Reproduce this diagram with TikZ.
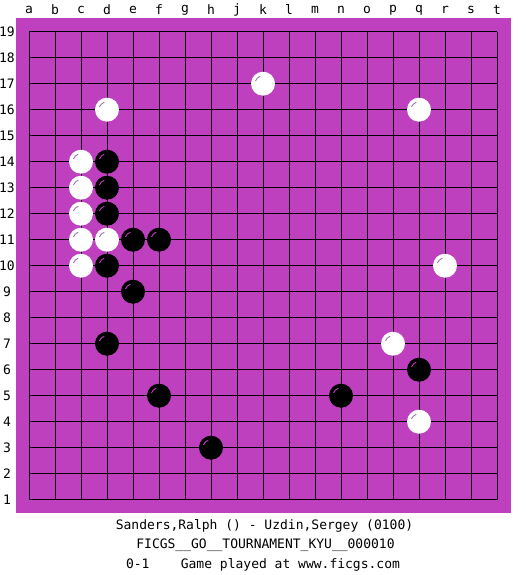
\documentclass[tikz,border=0pt]{standalone}
\usepackage{fontspec}
\setmonofont{DejaVu Sans Mono}
\definecolor{boardcolor}{RGB}{191, 64, 191}
\definecolor{shinecolor}{RGB}{150, 120, 170}
\tikzset{
	gridline/.style={draw=black, line width=0.9pt},
	whitestone/.style={
		circle, fill=white, minimum size=24pt, inner sep=0pt
	},
	blackstone/.style={
		circle, fill=black, minimum size=24pt, inner sep=0pt
	},
	whiteshine/.style={draw=shinecolor, line width=0.9pt},
	blackshine/.style={draw=boardcolor, line width=0.9pt},
	coordlabel/.style={
		font=\ttfamily\fontsize{13}{13}\selectfont, inner sep=0pt
	},
	captionline/.style={
		font=\ttfamily\fontsize{13}{13}\selectfont, anchor=base, inner sep=0pt
	}
}
\begin{document}
\begin{tikzpicture}[x=1pt, y=-1pt]
	\useasboundingbox (0,0) rectangle (525,575);
	
	%% board
	\fill[boardcolor] (16,18) rectangle (511,513);
	
	%% grid points and lines
	\foreach \c [count=\i from 0] in {a,b,c,d,e,f,g,h,j,k,l,m,n,o,p,q,r,s,t} {
		\foreach \r in {1,...,19}
			\coordinate (\c\r) at (29+26*\i, 31.7+26*19-26*\r);
		\draw[gridline] (\c19) -- (\c1);
		\node[coordlabel] (col-\c) at (29+26*\i, 10) {\c};
	}
	\foreach \r in {1,...,19} {
		\draw[gridline] (a\r) -- (t\r);
		\node[coordlabel] (row-\r) at (7, 31.7+26*19-26*\r) {\r};
	}
	
	%% stones
	\foreach \p in {k17,d16,q16,c14,c13,c12,c11,d11,c10,r10,p7,q4} {
		\node[whitestone] (w-\p) at (\p) {};
		\draw[whiteshine] (w-\p.center) ++(200:8) arc[start angle=200, end angle=250, radius=8];
	}
	\foreach \p in {d14,d13,d12,e11,f11,d10,e9,d7,q6,f5,n5,h3} {
		\node[blackstone] (b-\p) at (\p) {};
		\draw[blackshine] (b-\p.center) ++(200:8) arc[start angle=200, end angle=250, radius=8];
	}
	
	%% caption
	\node[captionline] (players) at (264.5,529) {Sanders,Ralph () - Uzdin,Sergey (0100)};
	\node[captionline] (event)   at (265.5,548.5) {FICGS\_\_GO\_\_TOURNAMENT\_KYU\_\_000010};
	\node[captionline] (result)  at (263,568) {0-1\ \ \ \ Game played at www.ficgs.com};
\end{tikzpicture}
\end{document}
